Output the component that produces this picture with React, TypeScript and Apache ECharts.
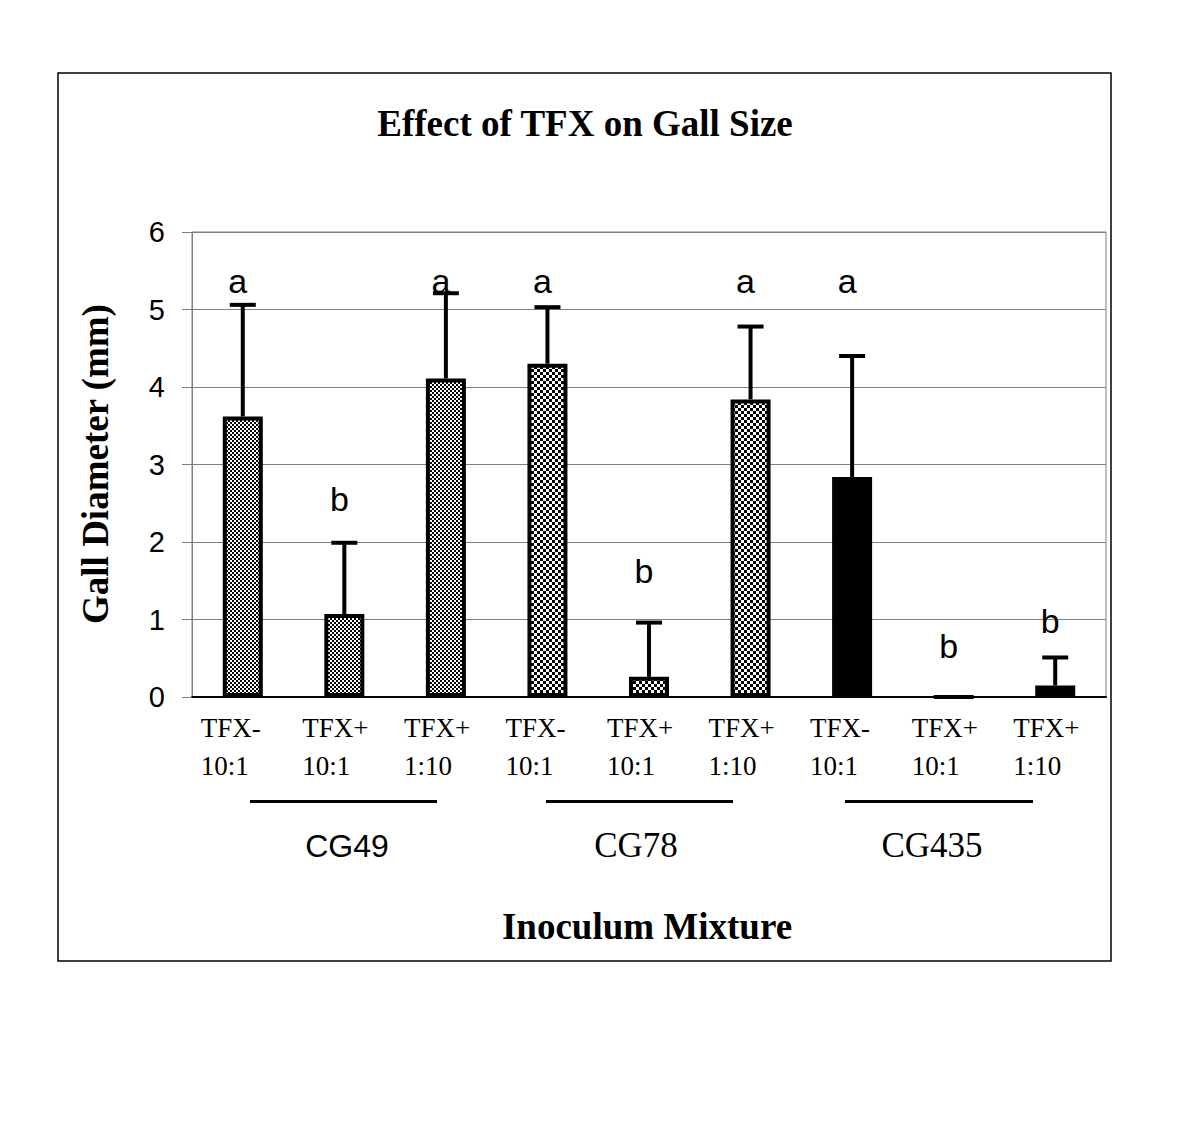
import React, { useEffect, useRef } from "react";
import * as echarts from "echarts";

const categories = [
  "TFX-\n10:1", "TFX+\n10:1", "TFX+\n1:10",
  "TFX-\n10:1", "TFX+\n10:1", "TFX+\n1:10",
  "TFX-\n10:1", "TFX+\n10:1", "TFX+\n1:10",
];
const strains = ["CG49", "CG49", "CG49", "CG78", "CG78", "CG78", "CG435", "CG435", "CG435"];
const means = [3.62, 1.07, 4.11, 4.3, 0.26, 3.84, 2.84, 0, 0.15];
const upperErrors = [1.44, 0.92, 1.1, 0.73, 0.7, 0.94, 1.56, 0, 0.36];
const letters = ["a", "b", "a", "a", "b", "a", "a", "b", "b"];
const letterY = [5.37, 2.56, 5.37, 5.37, 1.63, 5.37, 5.37, 0.66, 0.98];
const yTicks = [0, 1, 2, 3, 4, 5, 6];

const SERIF = "'Liberation Serif', 'Times New Roman', serif";
const SANS = "'Liberation Sans', Arial, sans-serif";

function checker(cell: number): HTMLCanvasElement {
  const c = document.createElement("canvas");
  c.width = cell * 2;
  c.height = cell * 2;
  const ctx = c.getContext("2d")!;
  ctx.fillStyle = "#ffffff";
  ctx.fillRect(0, 0, cell * 2, cell * 2);
  ctx.fillStyle = "#000000";
  ctx.fillRect(0, 0, cell, cell);
  ctx.fillRect(cell, cell, cell, cell);
  return c;
}

export default function App() {
  const ref = useRef<HTMLDivElement>(null);
  useEffect(() => {
    if (!ref.current) return;
    const chart = echarts.init(ref.current, null, { renderer: "svg" });
    const fills: Record<string, any> = {
      CG49: { image: checker(2), repeat: "repeat" },
      CG78: { image: checker(3), repeat: "repeat" },
      CG435: "#000000",
    };
    const option: any = {
      animation: false,
      backgroundColor: "#ffffff",
      grid: {
        left: 192,
        right: 93,
        top: 232,
        bottom: 440,
        show: true,
        borderColor: "#808080",
        borderWidth: 1,
      },
      xAxis: {
        type: "category",
        data: categories,
        axisLine: { lineStyle: { color: "#000", width: 2 } },
        axisTick: { show: false },
        axisLabel: {
          margin: 12,
          color: "#000",
          formatter: (v: string) => v.split("\n").map((s) => `{t|${s}}`).join("\n"),
          rich: {
            t: {
              width: 84,
              align: "left",
              fontFamily: SERIF,
              fontSize: 27,
              lineHeight: 38,
              color: "#000",
            },
          },
        },
      },
      yAxis: {
        type: "value",
        min: 0,
        max: 6,
        interval: 1,
        axisLine: { show: true, lineStyle: { color: "#808080", width: 1 } },
        axisTick: { show: true, length: 10, lineStyle: { color: "#808080" } },
        splitLine: { lineStyle: { color: "#808080", width: 1 } },
        axisLabel: {
          margin: 27,
          color: "#000",
          fontFamily: SANS,
          fontSize: 29,
          formatter: (v: number) => (yTicks.includes(v) ? String(v) : ""),
        },
      },
      series: [
        {
          type: "bar",
          barWidth: 40,
          data: means.map((m, i) => ({
            value: m,
            itemStyle: {
              color: fills[strains[i]],
              borderColor: "#000",
              borderWidth: 4,
            },
          })),
          z: 2,
        },
        {
          type: "custom",
          z: 3,
          data: means.map((m, i) => [i, m, upperErrors[i]]),
          renderItem: (params: any, api: any) => {
            const i = api.value(0);
            const m = api.value(1);
            const e = api.value(2);
            const base = api.coord([i, m]);
            const top = api.coord([i, m + e]);
            const hw = 13;
            return {
              type: "group",
              children: [
                {
                  type: "line",
                  shape: { x1: base[0], y1: base[1], x2: top[0], y2: top[1] },
                  style: { stroke: "#000", lineWidth: 4 },
                },
                {
                  type: "line",
                  shape: { x1: top[0] - hw, y1: top[1], x2: top[0] + hw, y2: top[1] },
                  style: { stroke: "#000", lineWidth: 4 },
                },
              ],
            };
          },
        },
        {
          type: "scatter",
          symbolSize: 0,
          z: 4,
          itemStyle: { color: "#000", opacity: 1 },
          data: letterY.map((y, i) => [i, y]),
          label: {
            show: true,
            position: "inside",
            offset: [-5, 0],
            formatter: (p: any) => letters[p.dataIndex],
            fontFamily: SANS,
            fontSize: 34,
            color: "#000",
            opacity: 1,
            textBorderWidth: 0,
          },
        },
      ],
      graphic: [
        {
          type: "rect",
          shape: { x: 58, y: 73, width: 1053, height: 888 },
          style: { fill: "none", stroke: "#000", lineWidth: 1.5 },
          z: 0,
        },
        {
          type: "text",
          x: 585,
          y: 123,
          style: {
            text: "Effect of TFX on Gall Size",
            font: `bold 37px ${SERIF}`,
            fill: "#000",
            align: "center",
            verticalAlign: "middle",
          },
        },
        {
          type: "text",
          x: 95,
          y: 464,
          rotation: Math.PI / 2,
          style: {
            text: "Gall Diameter (mm)",
            font: `bold 37px ${SERIF}`,
            fill: "#000",
            align: "center",
            verticalAlign: "middle",
          },
        },
        {
          type: "text",
          x: 647,
          y: 926,
          style: {
            text: "Inoculum Mixture",
            font: `bold 37px ${SERIF}`,
            fill: "#000",
            align: "center",
            verticalAlign: "middle",
          },
        },
        { type: "line", shape: { x1: 250, y1: 801.5, x2: 437, y2: 801.5 }, style: { stroke: "#000", lineWidth: 3 } },
        { type: "line", shape: { x1: 546, y1: 801.5, x2: 733, y2: 801.5 }, style: { stroke: "#000", lineWidth: 3 } },
        { type: "line", shape: { x1: 845, y1: 801.5, x2: 1033, y2: 801.5 }, style: { stroke: "#000", lineWidth: 3 } },
        {
          type: "text",
          x: 347,
          y: 846,
          style: { text: "CG49", font: `32px ${SANS}`, fill: "#000", align: "center", verticalAlign: "middle" },
        },
        {
          type: "text",
          x: 636,
          y: 845,
          style: { text: "CG78", font: `35px ${SERIF}`, fill: "#000", align: "center", verticalAlign: "middle" },
        },
        {
          type: "text",
          x: 932,
          y: 845,
          style: { text: "CG435", font: `35px ${SERIF}`, fill: "#000", align: "center", verticalAlign: "middle" },
        },
      ],
    };
    chart.setOption(option);
    return () => chart.dispose();
  }, []);
  return (
    <div
      ref={ref}
      style={{ position: "absolute", left: 0, top: 0, width: 1199, height: 1137, background: "#fff" }}
    />
  );
}
